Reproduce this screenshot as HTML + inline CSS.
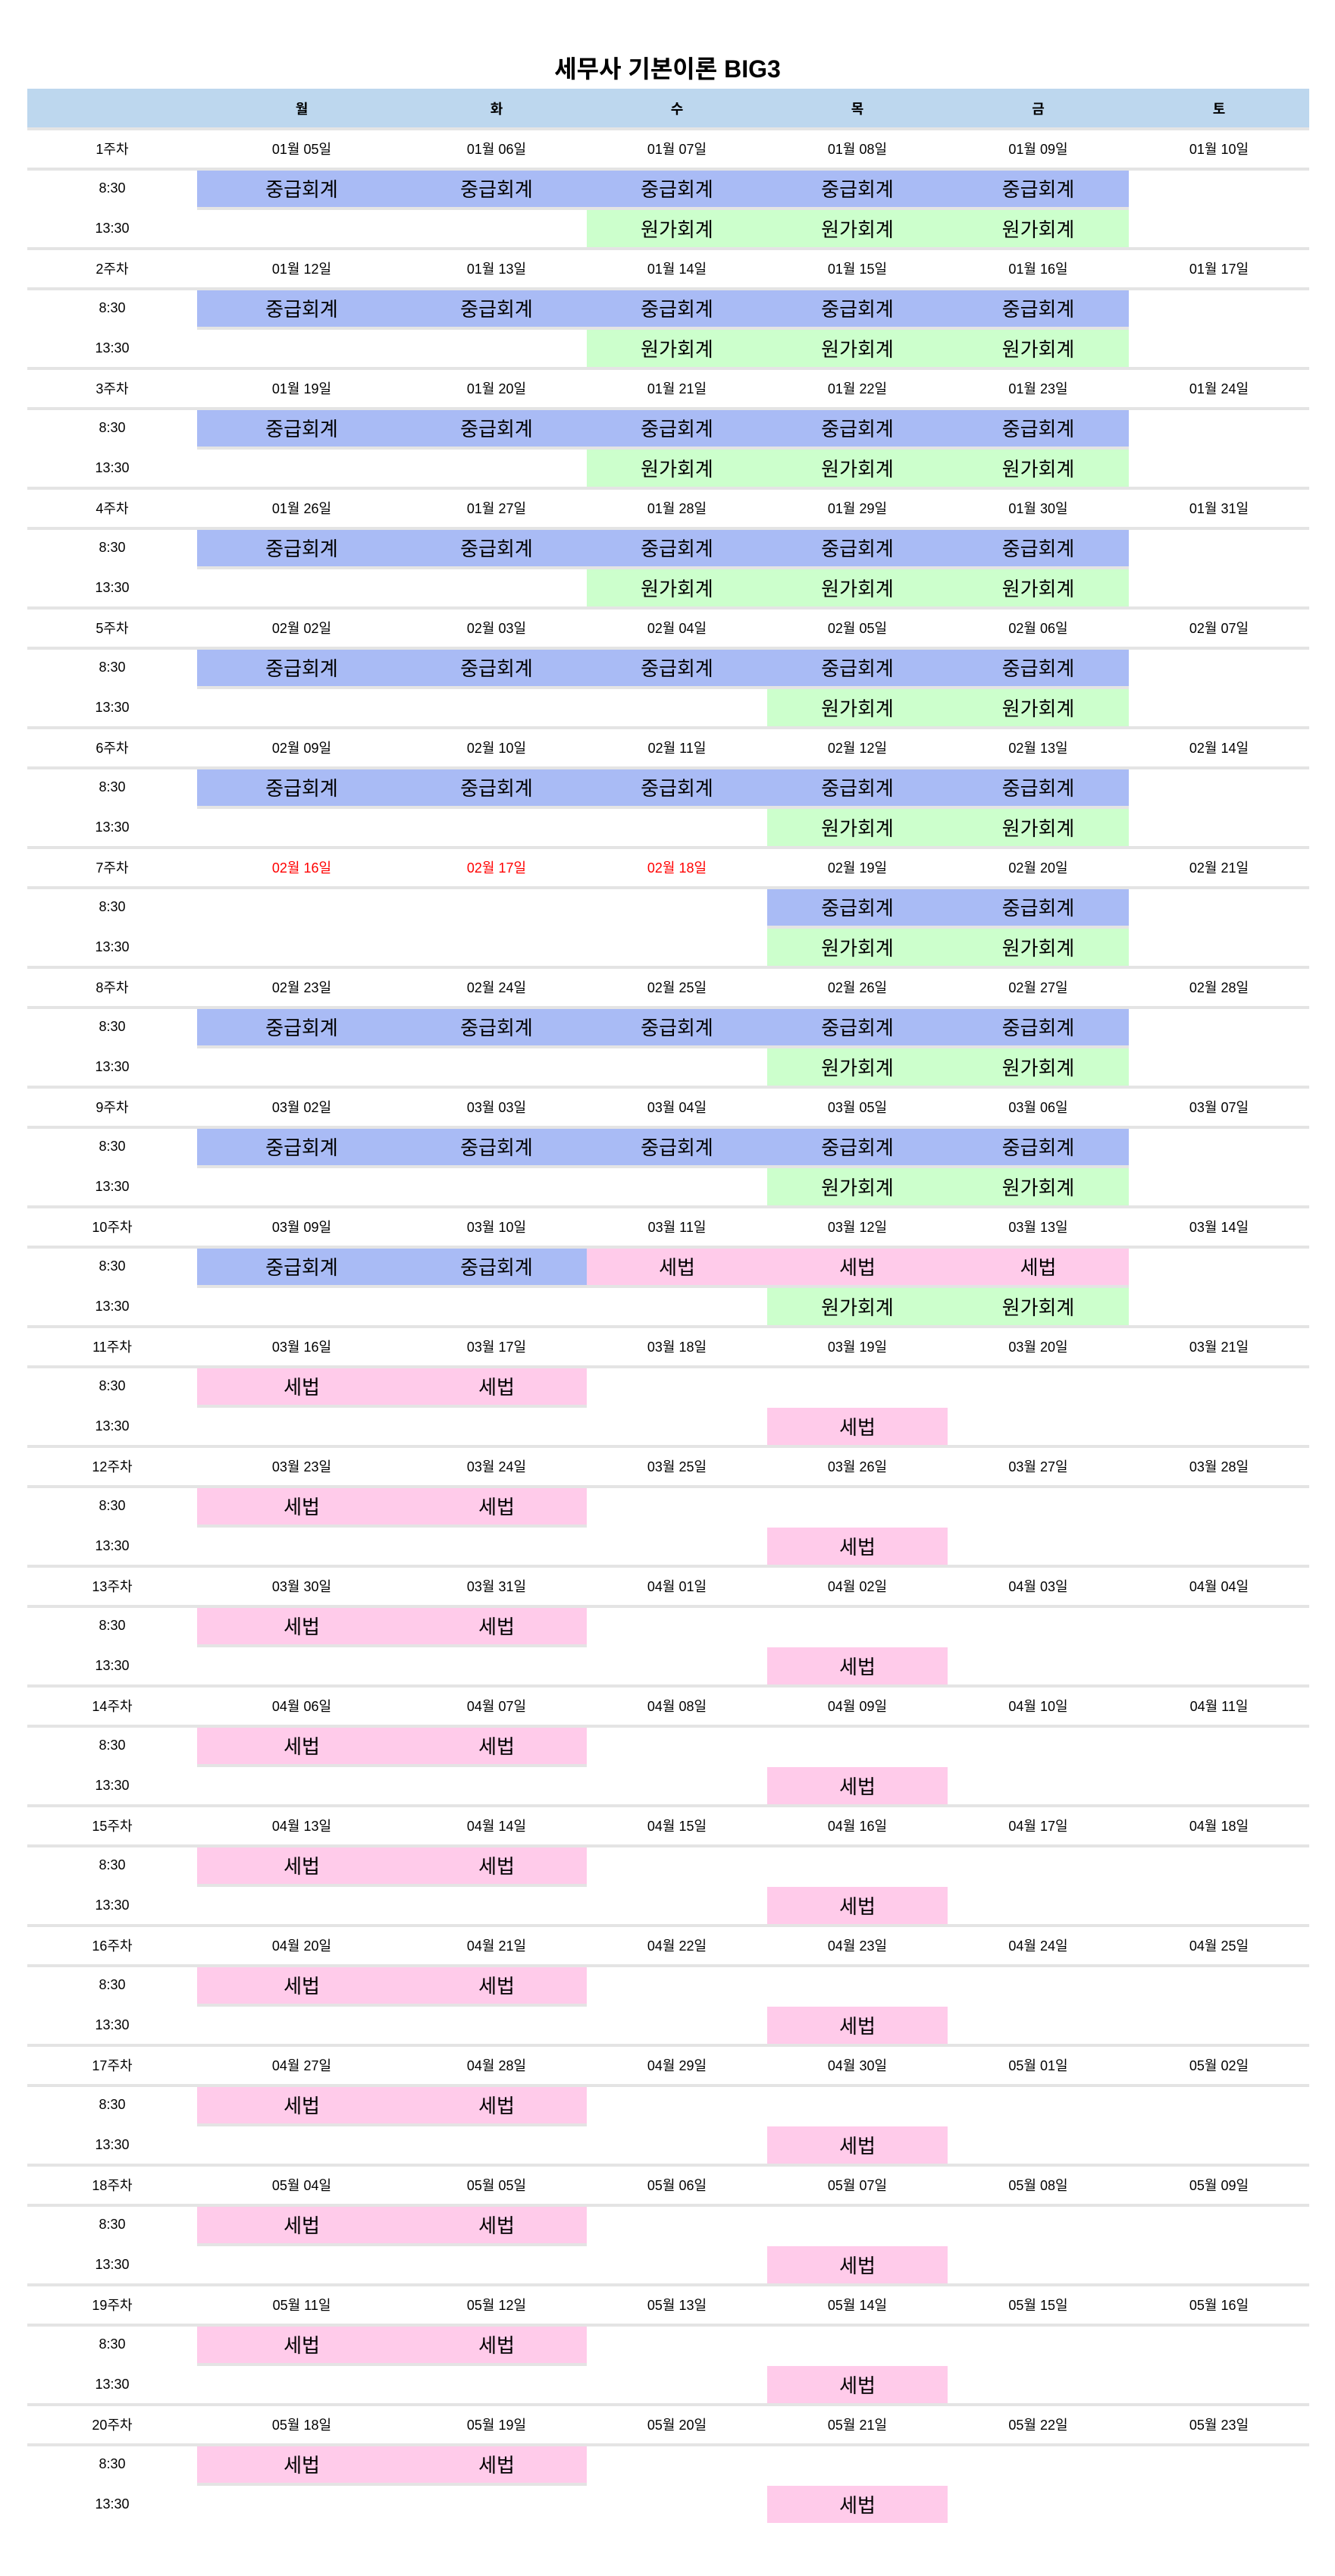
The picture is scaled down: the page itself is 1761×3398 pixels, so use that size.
<!DOCTYPE html>
<html><head><meta charset="utf-8">
<style>
html,body{margin:0;padding:0;background:#fff;}
body{width:1761px;height:3398px;position:relative;overflow:hidden;font-family:"Liberation Sans","Noto Sans CJK KR",sans-serif;color:#000;}
.abs{position:absolute;box-sizing:border-box;display:flex;align-items:center;justify-content:center;white-space:nowrap;}
#title{left:0;width:1761px;top:68px;height:42px;font-size:32px;font-weight:bold;}
#hdr{left:36px;top:117px;width:1691px;height:51px;background:#bdd7ee;}
.hd{font-size:18px;font-weight:bold;}
.lbl{font-size:18px;}
.dt{font-size:18px;}
.subj{font-size:26px;}
.line{position:absolute;background:#e4e4e4;height:4px;}
</style></head>
<body>
<div class="abs" id="title">세무사 기본이론 BIG3</div>
<div class="abs" id="hdr"></div>
<div class="line" style="left:36px;top:168px;width:1691px;"></div>
<div id="grid"></div>
<script>
const dayNames = ['월','화','수','목','금','토'];
const colX = [36,260,536,774,1012,1250,1489,1727];
// schedule per week: [morning subjects Mon..Sat], [afternoon subjects Mon..Sat]
const J='중급회계', W='원가회계', S='세법', N='';
const morningA = [J,J,J,J,J,N];
const afternoonA = [N,N,W,W,W,N];
const afternoonB = [N,N,N,W,W,N];
const morning7 = [N,N,N,J,J,N];
const morning10 = [J,J,S,S,S,N];
const morningTax = [S,S,N,N,N,N];
const afternoonTax = [N,N,N,S,N,N];
const weeksMorning = [morningA,morningA,morningA,morningA,morningA,morningA,morning7,morningA,morningA,morning10,
  morningTax,morningTax,morningTax,morningTax,morningTax,morningTax,morningTax,morningTax,morningTax,morningTax];
const weeksAfternoon = [afternoonA,afternoonA,afternoonA,afternoonA,afternoonB,afternoonB,afternoonB,afternoonB,afternoonB,afternoonB,
  afternoonTax,afternoonTax,afternoonTax,afternoonTax,afternoonTax,afternoonTax,afternoonTax,afternoonTax,afternoonTax,afternoonTax];
const holidays = ['02-16','02-17','02-18'];
const colors = {'중급회계':'#a9bbf5','원가회계':'#ccffcc','세법':'#ffcbea'};

const g = document.getElementById('grid');
function cell(x,y,w,h,txt,cls,name,bg,color){
  const d=document.createElement('div');
  d.className='abs '+cls;
  d.style.left=x+'px';d.style.top=y+'px';d.style.width=w+'px';d.style.height=h+'px';
  if(bg)d.style.background=bg;
  if(color)d.style.color=color;
  d.textContent=txt;
  
  
  g.appendChild(d);return d;
}
function line(x,y,w,name){
  const d=document.createElement('div');
  d.className='line';
  d.style.left=x+'px';d.style.top=y+'px';d.style.width=w+'px';
  
  
  g.appendChild(d);
}
// header
for(let i=0;i<6;i++){
  cell(colX[i+1],117,colX[i+2]-colX[i+1],51,dayNames[i],'hd','header-'+dayNames[i]);
}
const start = new Date(2026,0,5);
const pitch=158, rh=158/3, top0=172;
function pad(n){return (n<10?'0':'')+n;}
for(let w=0;w<20;w++){
  const y0=top0+pitch*w;
  // date row
  cell(colX[0],y0,colX[1]-colX[0],rh-4,(w+1)+'주차','lbl','week-label');
  for(let d=0;d<6;d++){
    const dt=new Date(start.getTime()+ (w*7+d)*86400000);
    const m=pad(dt.getMonth()+1), dd=pad(dt.getDate());
    const red=holidays.indexOf(m+'-'+dd)>=0;
    cell(colX[d+1],y0,colX[d+2]-colX[d+1],rh-4,m+'월 '+dd+'일','dt','date-cell',null,red?'#ff0000':null);
  }
  line(36,y0+rh-4,1691,'date-row-border');
  // morning
  const y1=y0+rh;
  cell(colX[0],y1,colX[1]-colX[0],rh-4,'8:30','lbl','time-830');
  const mo=weeksMorning[w];
  for(let d=0;d<6;d++){
    if(mo[d]){
      cell(colX[d+1],y1,colX[d+2]-colX[d+1],rh-4,mo[d],'subj','class-'+(mo[d]===J?'intermediate-accounting':mo[d]===W?'cost-accounting':'tax-law'),colors[mo[d]]);
      line(colX[d+1],y1+rh-4,colX[d+2]-colX[d+1],'cell-border');
    }
  }
  // afternoon
  const y2=y1+rh;
  cell(colX[0],y2,colX[1]-colX[0],rh-4,'13:30','lbl','time-1330');
  const af=weeksAfternoon[w];
  for(let d=0;d<6;d++){
    if(af[d]){
      cell(colX[d+1],y2,colX[d+2]-colX[d+1],rh-4,af[d],'subj','class-'+(af[d]===J?'intermediate-accounting':af[d]===W?'cost-accounting':'tax-law'),colors[af[d]]);
    }
  }
  if(w<19) line(36,y2+rh-4,1691,'week-border');
}
</script>
</body></html>
